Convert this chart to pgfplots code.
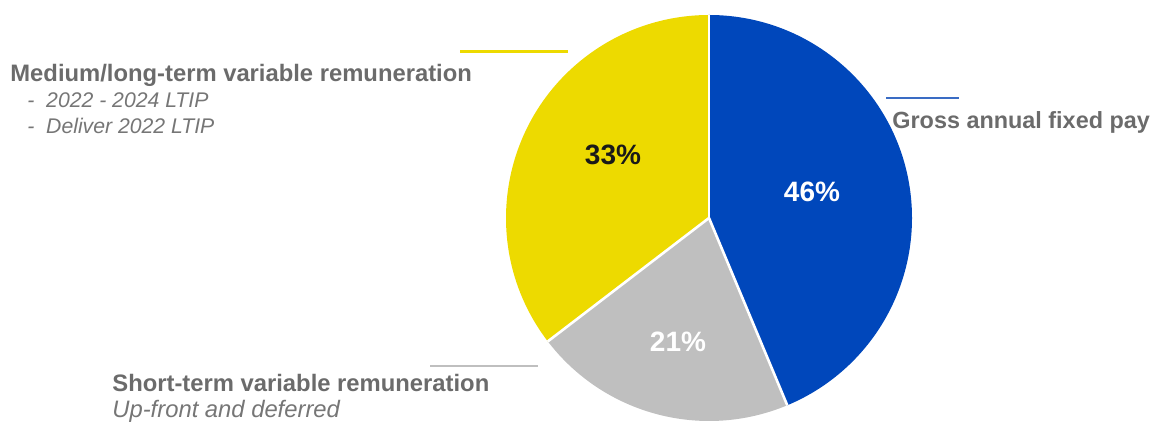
\documentclass[border=0pt]{standalone}
\usepackage{fontspec}
\setmainfont{Liberation Sans}
\usepackage{pgfplots}
\usepackage{pgfplotstable}
\pgfplotsset{compat=1.18}

\definecolor{pieblue}{HTML}{0047BB}
\definecolor{pieyellow}{HTML}{EDDA00}
\definecolor{piegrey}{HTML}{BFBFBF}
\definecolor{lineblue}{HTML}{3A6CC4}
\definecolor{txtgrey}{HTML}{6B6B6B}
\definecolor{itgrey}{HTML}{767676}

% share of the circle each slice takes, and the printed label
\pgfplotstableread{
share pct
43.7 46
20.9 21
35.4 33
}\piedata

\begin{document}
\begin{tikzpicture}
\pgfplotstablegetelem{0}{share}\of\piedata \let\sA\pgfplotsretval
\pgfplotstablegetelem{1}{share}\of\piedata \let\sB\pgfplotsretval
\pgfplotstablegetelem{2}{share}\of\piedata \let\sC\pgfplotsretval
\pgfplotstablegetelem{0}{pct}\of\piedata \let\pA\pgfplotsretval
\pgfplotstablegetelem{1}{pct}\of\piedata \let\pB\pgfplotsretval
\pgfplotstablegetelem{2}{pct}\of\piedata \let\pC\pgfplotsretval
\pgfmathsetmacro\angA{90}
\pgfmathsetmacro\angB{\angA-3.6*\sA}
\pgfmathsetmacro\angC{\angB-3.6*\sB}
\pgfmathsetmacro\angD{\angC-3.6*\sC}
\def\R{101.5pt}
\begin{axis}[
  scale only axis,
  width=578pt, height=213pt,
  xmin=0, xmax=1156, ymin=0, ymax=426,
  hide axis, clip=false,
]
  \path (axis cs:0,0) rectangle (axis cs:1156,426);

  % slices
  \fill[pieblue] (axis cs:709,208) -- ++(\angA:\R) arc[start angle=\angA, end angle=\angB, radius=\R] -- cycle;
  \fill[piegrey] (axis cs:709,208) -- ++(\angB:\R) arc[start angle=\angB, end angle=\angC, radius=\R] -- cycle;
  \fill[pieyellow] (axis cs:709,208) -- ++(\angC:\R) arc[start angle=\angC, end angle=\angD, radius=\R] -- cycle;
  \draw[white, line width=1.3pt] (axis cs:709,208) -- ++(\angA:\R);
  \draw[white, line width=1.3pt] (axis cs:709,208) -- ++(\angB:\R);
  \draw[white, line width=1.3pt] (axis cs:709,208) -- ++(\angC:\R);

  % percentages
  \node[white, font=\fontsize{14}{16}\selectfont\bfseries] at (axis cs:812,234) {\pA\%};
  \node[white, font=\fontsize{14}{16}\selectfont\bfseries] at (axis cs:678,84) {\pB\%};
  \node[black!90, font=\fontsize{14}{16}\selectfont\bfseries] at (axis cs:613,271) {\pC\%};

  % leader lines
  \draw[pieyellow, line width=1.5pt] (axis cs:460,374) -- (axis cs:568,374);
  \draw[lineblue, line width=1pt] (axis cs:886,328) -- (axis cs:959,328);
  \draw[piegrey, line width=1pt] (axis cs:430,60) -- (axis cs:538,60);

  % labels
  \node[anchor=base west, inner sep=0pt, txtgrey, font=\fontsize{11.9}{14}\selectfont\bfseries] at (axis cs:10,344) {Medium/long-term variable remuneration};
  \node[anchor=base west, inner sep=0pt, itgrey, font=\fontsize{10.6}{13}\selectfont\itshape] at (axis cs:27,318) {- \ 2022 - 2024 LTIP};
  \node[anchor=base west, inner sep=0pt, itgrey, font=\fontsize{10.6}{13}\selectfont\itshape] at (axis cs:27,292) {- \ Deliver 2022 LTIP};
  \node[anchor=base west, inner sep=0pt, txtgrey, font=\fontsize{11.7}{14}\selectfont\bfseries] at (axis cs:892,297) {Gross annual fixed pay};
  \node[anchor=base west, inner sep=0pt, txtgrey, font=\fontsize{11.9}{14}\selectfont\bfseries] at (axis cs:112,34) {Short-term variable remuneration};
  \node[anchor=base west, inner sep=0pt, itgrey, font=\fontsize{11.9}{14}\selectfont\itshape] at (axis cs:112,8) {Up-front and deferred};
\end{axis}
\end{tikzpicture}
\end{document}
